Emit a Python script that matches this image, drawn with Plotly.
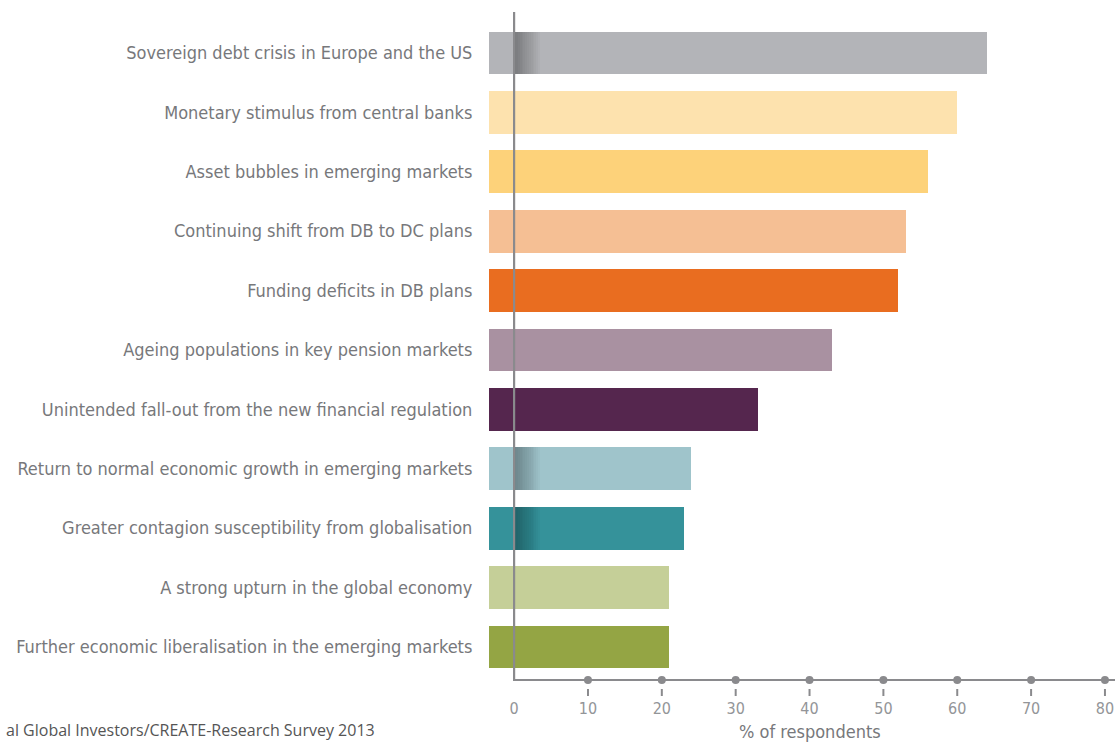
import plotly.graph_objects as go

categories = [
    "Sovereign debt crisis in Europe and the US",
    "Monetary stimulus from central banks",
    "Asset bubbles in emerging markets",
    "Continuing shift from DB to DC plans",
    "Funding deficits in DB plans",
    "Ageing populations in key pension markets",
    "Unintended fall-out from the new financial regulation",
    "Return to normal economic growth in emerging markets",
    "Greater contagion susceptibility from globalisation",
    "A strong upturn in the global economy",
    "Further economic liberalisation in the emerging markets",
]
values = [64, 60, 56, 53, 52, 43, 33, 24, 23, 21, 21]
colors = ["#b3b4b8", "#fde2ae", "#fdd27a", "#f5bf94", "#e96d20", "#a991a1",
          "#55264e", "#9fc4cb", "#35929a", "#c5cf98", "#94a544"]
shaded = ["Sovereign debt crisis in Europe and the US",
          "Return to normal economic growth in emerging markets",
          "Greater contagion susceptibility from globalisation"]
x_ticks = [0, 10, 20, 30, 40, 50, 60, 70, 80]
x_title = "% of respondents"
source = "al Global Investors/CREATE-Research Survey 2013"

BAR_START = -3.4
FONT = "DejaVu Sans Condensed, Liberation Sans Narrow, sans-serif"
GREY = "#8a8a8d"

fig = go.Figure()
fig.add_trace(go.Bar(
    y=categories, x=[v - BAR_START for v in values], base=BAR_START,
    orientation="h", marker=dict(color=colors, line=dict(width=0)),
    width=0.72, hoverinfo="skip", showlegend=False,
))
# soft shadow next to the axis on some bars
for k in range(1, 15):
    fig.add_trace(go.Bar(
        y=shaded, x=[k * 0.25] * len(shaded), base=0, orientation="h",
        marker=dict(color="rgba(0,0,0,0.024)", line=dict(width=0)),
        width=0.72, hoverinfo="skip", showlegend=False,
    ))

shapes = [dict(type="path", xref="x", yref="paper",
               path="M 0 1.0 L 0 0 L 81.36 0",
               line=dict(color=GREY, width=2.2), layer="above")]
for t in x_ticks[1:]:
    shapes.append(dict(type="circle", xref="x", yref="paper",
                       xsizemode="pixel", ysizemode="pixel",
                       xanchor=t, yanchor=0, x0=-4, x1=4, y0=-4, y1=4,
                       fillcolor=GREY, line=dict(width=0), layer="above"))
    shapes.append(dict(type="line", xref="x", yref="paper",
                       ysizemode="pixel", yanchor=0,
                       x0=t, x1=t, y0=-9, y1=-16,
                       line=dict(color=GREY, width=2), layer="above"))

fig.update_layout(
    width=1115, height=744,
    margin=dict(l=489, r=0, t=12, b=64, autoexpand=False),
    paper_bgcolor="white", plot_bgcolor="white",
    barmode="overlay", bargap=0,
    font=dict(family=FONT, color="#77787b"),
    xaxis=dict(range=[BAR_START, 81.36], tickvals=x_ticks,
               ticktext=[str(t) for t in x_ticks],
               showgrid=False, zeroline=False, showline=False,
               ticks="outside", ticklen=14, tickcolor="rgba(0,0,0,0)",
               tickfont=dict(family=FONT, size=16, color="#939598"),
               automargin=False, fixedrange=True),
    yaxis=dict(range=[10.556, -0.69], showgrid=False, zeroline=False,
               showline=False, ticks="outside", ticklen=12,
               tickcolor="rgba(0,0,0,0)",
               tickfont=dict(family=FONT, size=18, color="#77787b"),
               automargin=False, fixedrange=True),
    shapes=shapes,
    annotations=[
        dict(text=x_title, xref="x", yref="paper", x=40, y=0, yshift=-51,
             showarrow=False, xanchor="center", yanchor="middle",
             font=dict(family=FONT, size=18, color="#77787b")),
        dict(text=source, xref="paper", yref="paper", x=-485 / 626, y=0,
             yshift=-50, showarrow=False, xanchor="left", yanchor="middle",
             font=dict(family="Open Sans, sans-serif", size=16, color="#555555")),
    ],
)

fig.write_html("out.html",
               config={"displayModeBar": False},
               post_script="document.body.style.margin='0';"
                           "document.body.style.overflow='hidden';")
